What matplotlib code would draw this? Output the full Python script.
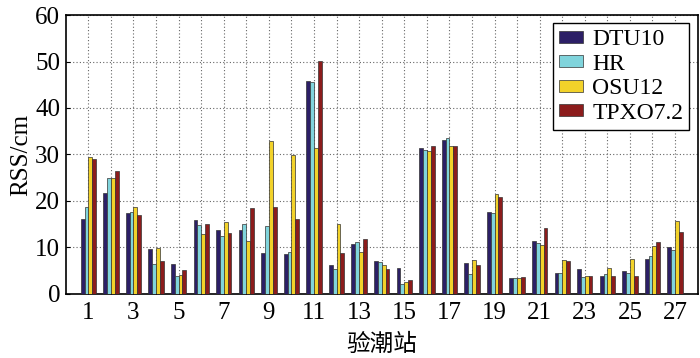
import numpy as np
import matplotlib
matplotlib.use("Agg")
import matplotlib.pyplot as plt

# stations 1..27
stations = np.arange(1, 28)
dtu10 = [16.1, 21.7, 17.4, 9.6, 6.4, 15.9, 13.7, 13.7, 8.8, 8.6, 45.8, 6.3, 10.8, 7.0,
         5.6, 31.4, 33.1, 6.6, 17.6, 3.5, 11.4, 4.4, 5.4, 3.9, 4.9, 7.6, 10.1]
hr = [18.8, 25.0, 17.6, 6.4, 3.9, 14.9, 12.4, 15.1, 14.6, 9.1, 45.6, 5.4, 11.1, 6.8,
      2.2, 30.9, 33.6, 4.3, 17.5, 3.4, 11.0, 4.4, 3.7, 4.3, 4.4, 8.2, 9.4]
osu12 = [29.5, 24.9, 18.8, 9.9, 4.1, 12.9, 15.4, 11.4, 32.8, 29.9, 31.5, 15.0, 9.0, 6.3,
         2.5, 30.7, 31.9, 7.4, 21.5, 3.4, 10.6, 7.4, 3.9, 5.5, 7.6, 10.4, 15.7]
tpxo72 = [29.0, 26.4, 17.0, 7.0, 5.2, 15.1, 13.1, 18.4, 18.6, 16.1, 50.1, 8.8, 11.8, 5.4,
          2.9, 31.9, 31.9, 6.3, 20.9, 3.6, 14.1, 7.1, 3.8, 3.9, 3.8, 11.1, 13.4]
names = ["DTU10", "HR", "OSU12", "TPXO7.2"]
colors = ["#2c1f66", "#80d4dc", "#f2d22a", "#8c1c1c"]

plt.rcParams['font.family'] = ['Liberation Serif', 'Noto Sans CJK SC']

fig = plt.figure(figsize=(7, 3.58), dpi=100)
ax = fig.add_axes([0.094, 0.179, 0.9026, 0.779])

w = 0.17
series = [dtu10, hr, osu12, tpxo72]
for k in range(4):
    off = (k - 1.5) * w
    ax.bar(stations + off, series[k], width=w, color=colors[k], edgecolor="#333333",
           linewidth=0.5, label=names[k], zorder=3)

ax.set_xlim(0, 28)
ax.set_ylim(0, 60)
ax.set_xticks(stations)
ax.set_xticklabels([str(s) if s % 2 == 1 else "" for s in stations])
ax.set_yticks(np.arange(0, 61, 10))
ax.tick_params(direction="in", length=3, labelsize=18, width=0.8, pad=4)
ax.tick_params(axis="x", pad=6)
ax.grid(True, linestyle=(0, (1, 2)), color="#666666", linewidth=0.8, zorder=0)
for sp in ax.spines.values():
    sp.set_linewidth(1.2)

ax.set_ylabel("RSS/cm", fontsize=18, labelpad=2)
ax.set_xlabel("验潮站", fontsize=17, family=['Noto Sans CJK SC'], labelpad=6)

leg = ax.legend(loc="upper right", fontsize=17, fancybox=False, framealpha=1,
                edgecolor="black", borderaxespad=0.35, handlelength=1.0,
                handleheight=0.4, handletextpad=0.4, labelspacing=0.15,
                borderpad=0.25)
leg.get_frame().set_linewidth(1.0)

fig.savefig("out.png", dpi=100)
